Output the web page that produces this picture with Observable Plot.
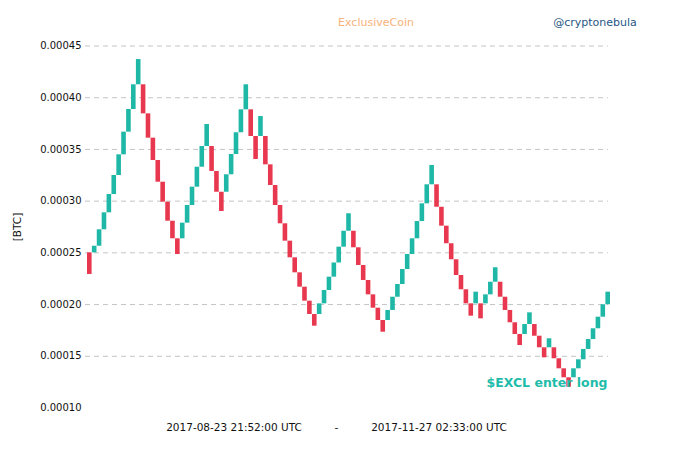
<!DOCTYPE html>
<html><head><meta charset="utf-8">
<script src="https://cdn.jsdelivr.net/npm/d3@7"></script>
<script src="https://cdn.jsdelivr.net/npm/@observablehq/plot@0.6"></script>
<style>
body{margin:0;background:#fff;font-family:"DejaVu Sans",sans-serif;}
#wrap{position:relative;width:680px;height:453px;overflow:hidden;background:#fff}
#chart{position:absolute;left:0;top:0}
.lbl{position:absolute;white-space:nowrap;line-height:1;transform:translate(-50%,-50%)}
</style></head><body>
<div id="wrap">
<div id="chart"></div>
<div class="lbl" style="left:376px;top:22px;font-size:11px;color:#f8b27a">ExclusiveCoin</div>
<div class="lbl" style="left:595px;top:22px;font-size:11px;color:#1f5785">@cryptonebula</div>
<div class="lbl" style="left:17px;top:227px;font-size:10.5px;color:#111;transform:translate(-50%,-50%) rotate(-90deg)">[BTC]</div>
<div class="lbl" style="left:234px;top:427px;font-size:10.5px;color:#111">2017-08-23 21:52:00 UTC</div>
<div class="lbl" style="left:336.5px;top:427px;font-size:10.5px;color:#111">-</div>
<div class="lbl" style="left:439px;top:427px;font-size:10.5px;color:#111">2017-11-27 02:33:00 UTC</div>
</div>
<script>
// Renko bricks: open and close price of each brick (BTC)
const opens = [
0.0002500,0.0002500,0.0002564,0.0002723,0.0002887,0.0003064,0.0003248,0.0003448,0.0003667,0.0003886,
0.0004125,0.0004125,0.0003844,0.0003609,0.0003393,0.0003183,0.0002990,0.0002806,0.0002636,0.0002636,
0.0002787,0.0002958,0.0003135,0.0003328,0.0003528,0.0003528,0.0003287,0.0003086,0.0003086,0.0003255,
0.0003451,0.0003661,0.0003883,0.0003883,0.0003625,0.0003625,0.0003625,0.0003351,0.0003151,0.0002958,
0.0002781,0.0002613,0.0002452,0.0002307,0.0002168,0.0002033,0.0001904,0.0001904,0.0002007,0.0002136,
0.0002265,0.0002402,0.0002555,0.0002709,0.0002709,0.0002549,0.0002378,0.0002233,0.0002094,0.0001965,
0.0001846,0.0001846,0.0001943,0.0002071,0.0002194,0.0002339,0.0002484,0.0002636,0.0002803,0.0002974,
0.0003158,0.0003158,0.0002941,0.0002758,0.0002588,0.0002433,0.0002281,0.0002143,0.0002007,0.0002007,
0.0002007,0.0002007,0.0002094,0.0002216,0.0002216,0.0002071,0.0001943,0.0001824,0.0001711,0.0001711,
0.0001807,0.0001807,0.0001694,0.0001582,0.0001582,0.0001582,0.0001476,0.0001379,0.0001292,0.0001292,
0.0001379,0.0001466,0.0001566,0.0001662,0.0001766,0.0001878,0.0001998
];
const closes = [
0.0002291,0.0002564,0.0002723,0.0002887,0.0003064,0.0003248,0.0003448,0.0003667,0.0003886,0.0004125,
0.0004369,0.0003844,0.0003609,0.0003393,0.0003183,0.0002990,0.0002806,0.0002636,0.0002484,0.0002787,
0.0002958,0.0003135,0.0003328,0.0003528,0.0003741,0.0003287,0.0003086,0.0002900,0.0003255,0.0003451,
0.0003661,0.0003883,0.0004125,0.0003625,0.0003403,0.0003818,0.0003351,0.0003151,0.0002958,0.0002781,
0.0002613,0.0002452,0.0002307,0.0002168,0.0002033,0.0001904,0.0001791,0.0002007,0.0002136,0.0002265,
0.0002402,0.0002555,0.0002709,0.0002878,0.0002549,0.0002378,0.0002233,0.0002094,0.0001965,0.0001846,
0.0001733,0.0001943,0.0002071,0.0002194,0.0002339,0.0002484,0.0002636,0.0002803,0.0002974,0.0003158,
0.0003345,0.0002941,0.0002758,0.0002588,0.0002433,0.0002281,0.0002143,0.0002007,0.0001888,0.0002120,
0.0001862,0.0002094,0.0002216,0.0002356,0.0002071,0.0001943,0.0001824,0.0001711,0.0001604,0.0001807,
0.0001920,0.0001694,0.0001582,0.0001485,0.0001669,0.0001476,0.0001379,0.0001292,0.0001201,0.0001379,
0.0001466,0.0001566,0.0001662,0.0001766,0.0001878,0.0001998,0.0002120
];
const yTicks = [0.00010,0.00015,0.00020,0.00025,0.00030,0.00035,0.00040,0.00045];
const annotation = "$EXCL enter long";
const upColor = "#1fb8a7", downColor = "#e8384f";

const data = opens.map((o, i) => ({i, open: o, close: closes[i], dir: closes[i] >= o ? "up" : "down"}));

const chart = Plot.plot({
  width: 680, height: 453,
  marginTop: 45.5, marginBottom: 45.5, marginLeft: 87, marginRight: 70,
  style: {fontFamily: "DejaVu Sans", fontSize: "10px", color: "#111", background: "transparent"},
  x: {type: "band", domain: d3.range(opens.length), paddingInner: 0.06, paddingOuter: 0, axis: null},
  y: {domain: [0.0001, 0.00045], ticks: yTicks, tickFormat: d3.format(".5f"), tickSize: 0, tickPadding: 6, label: null},
  color: {domain: ["up", "down"], range: [upColor, downColor]},
  marks: [
    Plot.ruleY(yTicks.filter(t => t > 0.0001), {stroke: "#c4c4c4", strokeDasharray: "5,4", insetLeft: -2, insetRight: 2}),
    Plot.barY(data, {x: "i", y1: "open", y2: "close", fill: "dir"}),
    Plot.text([annotation], {frameAnchor: "bottom-right", textAnchor: "end", lineAnchor: "middle", dx: -3, dy: -25.5,
      fill: "#1fbcaa", fontWeight: "bold", fontSize: 12.5})
  ]
});
document.getElementById("chart").appendChild(chart);
</script>
</body></html>
